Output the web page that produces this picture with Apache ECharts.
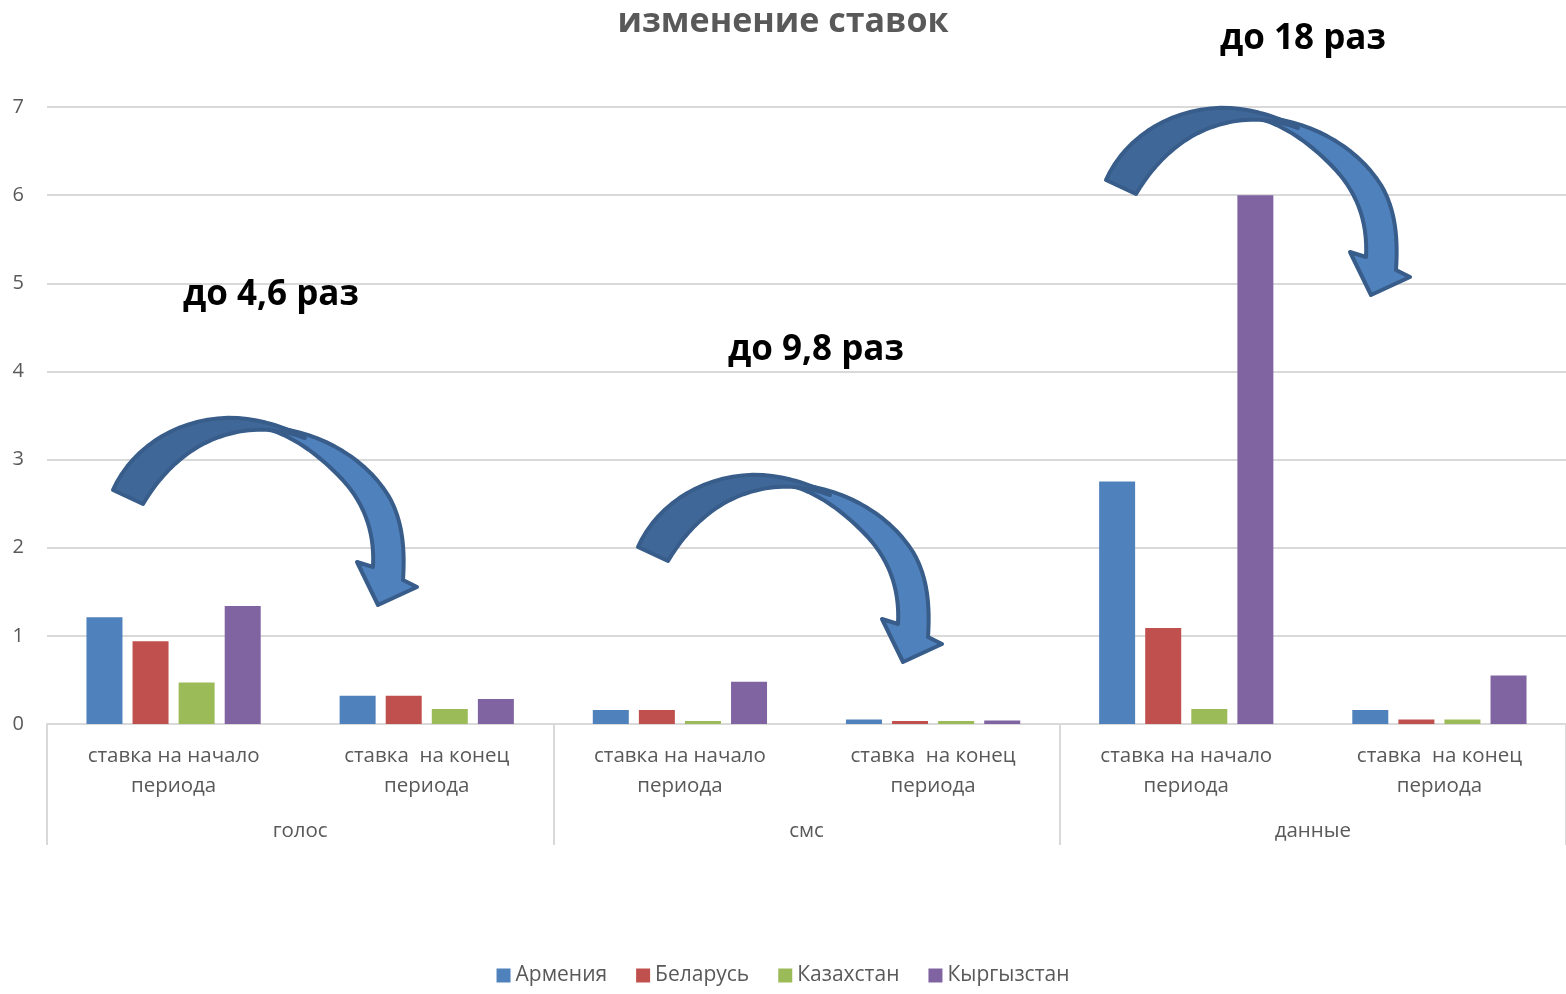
<!DOCTYPE html>
<html>
<head>
<meta charset="utf-8">
<script src="https://cdn.jsdelivr.net/npm/echarts@6/dist/echarts.min.js"></script>
<style>html,body{margin:0;padding:0;background:#fff}#c{width:1566px;height:994px}</style>
</head>
<body>
<div id="c"></div>
<script>
const categories = ['ставка на начало\nпериода','ставка  на конец\nпериода','ставка на начало\nпериода','ставка  на конец\nпериода','ставка на начало\nпериода','ставка  на конец\nпериода'];
const groups = ['голос','смс','данные'];
const seriesNames = ['Армения','Беларусь','Казахстан','Кыргызстан'];
const armenia = [1.21, 0.32, 0.16, 0.05, 2.75, 0.16];
const belarus = [0.94, 0.32, 0.16, 0.035, 1.09, 0.05];
const kazakhstan = [0.47, 0.17, 0.035, 0.035, 0.17, 0.05];
const kyrgyzstan = [1.34, 0.285, 0.48, 0.04, 6.0, 0.55];
const yTicks = [0,1,2,3,4,5,6,7];
const annotations = ['до 4,6 раз','до 9,8 раз','до 18 раз'];

const colors = ['#4F81BD','#C0504D','#9BBB59','#8064A2'];
const FONT = 'Open Sans';
const values = [armenia, belarus, kazakhstan, kyrgyzstan];

const chart = echarts.init(document.getElementById('c'));

// arrow outline described as path commands, sampled into polygon points
const darkCmds = [['M',0,0],['C',20,-45,70,-75,125,-72],['C',150,-70,175,-62,192,-52],['C',165,-62,140,-62,120,-57],['C',80,-48,50,-20,30,14]];
const lightCmds = [['M',148,-63],['C',200,-62,250,-35,275,5],['C',290,30,292,60,290,90],['L',304,97],['L',265,115],['L',244,72],['L',260,77],['C',262,40,250,10,225,-15],['C',205,-35,180,-55,148,-63]];
function sample(cmds) {
  const pts = []; let cx = 0, cy = 0;
  cmds.forEach(c => {
    if (c[0] === 'M' || c[0] === 'L') { cx = c[1]; cy = c[2]; pts.push([cx, cy]); }
    else {
      const [, x1, y1, x2, y2, x3, y3] = c;
      for (let i = 1; i <= 16; i++) {
        const t = i / 16, u = 1 - t;
        pts.push([u*u*u*cx + 3*u*u*t*x1 + 3*u*t*t*x2 + t*t*t*x3, u*u*u*cy + 3*u*u*t*y1 + 3*u*t*t*y2 + t*t*t*y3]);
      }
      cx = x3; cy = y3;
    }
  });
  return pts;
}
const darkPts = sample(darkCmds), lightPts = sample(lightCmds);
function arrow(x, y) {
  return [
    {type:'polygon', x:x, y:y, z:100, shape:{points: lightPts}, style:{fill:'#4F81BD', stroke:'#385D8A', lineWidth:4, lineJoin:'round'}},
    {type:'polygon', x:x, y:y, z:101, shape:{points: darkPts}, style:{fill:'#3F6899', stroke:'#385D8A', lineWidth:4, lineJoin:'round'}}
  ];
}

const option = {
  animation: false,
  color: colors,
  title: {
    text: 'изменение ставок', left: 'center', top: 0,
    textStyle: {fontFamily: FONT, fontSize: 34, fontWeight: 'bold', color: '#595959'}
  },
  legend: {
    bottom: 3, left: 'center', itemWidth: 14, itemHeight: 14, itemGap: 29, icon: 'rect',
    data: seriesNames,
    textStyle: {fontFamily: FONT, fontSize: 21, color: '#595959'}
  },
  grid: {left: 47, width: 1524, top: 107, bottom: 270, containLabel: false},
  xAxis: [
    {
      type: 'category', data: categories, position: 'bottom',
      axisLine: {show: true, lineStyle: {color: '#D9D9D9', width: 2}},
      axisTick: {show: false},
      axisLabel: {interval: 0, fontFamily: FONT, fontSize: 20.5, lineHeight: 30, color: '#595959', margin: 17}
    },
    {
      type: 'category', data: groups, position: 'bottom',
      axisLine: {show: false},
      axisTick: {show: true, length: 121, lineStyle: {color: '#D9D9D9', width: 2}},
      axisLabel: {interval: 0, fontFamily: FONT, fontSize: 20.5, color: '#595959', margin: 97}
    }
  ],
  yAxis: {
    type: 'value', min: 0, max: 7, interval: 1,
    axisLine: {show: false}, axisTick: {show: false},
    splitLine: {lineStyle: {color: '#D9D9D9', width: 2}},
    axisLabel: {fontFamily: FONT, fontSize: 20, color: '#595959', margin: 23,
      formatter: v => yTicks.includes(v) ? String(v) : ''}
  },
  series: seriesNames.map((n, i) => ({
    name: n, type: 'bar', xAxisIndex: 0, data: values[i],
    barWidth: 36, barGap: '28%'
  })),
  graphic: [
    ...arrow(113, 490),
    ...arrow(638, 547),
    ...arrow(1106, 180),
    {type:'text', x:271, y:295, z:110, style:{text: annotations[0], font: 'bold 35px "Open Sans"', fill:'#000', textAlign:'center', textVerticalAlign:'middle'}},
    {type:'text', x:816, y:350, z:110, style:{text: annotations[1], font: 'bold 35px "Open Sans"', fill:'#000', textAlign:'center', textVerticalAlign:'middle'}},
    {type:'text', x:1303, y:39, z:110, style:{text: annotations[2], font: 'bold 35px "Open Sans"', fill:'#000', textAlign:'center', textVerticalAlign:'middle'}}
  ]
};
chart.setOption(option);
</script>
</body>
</html>
